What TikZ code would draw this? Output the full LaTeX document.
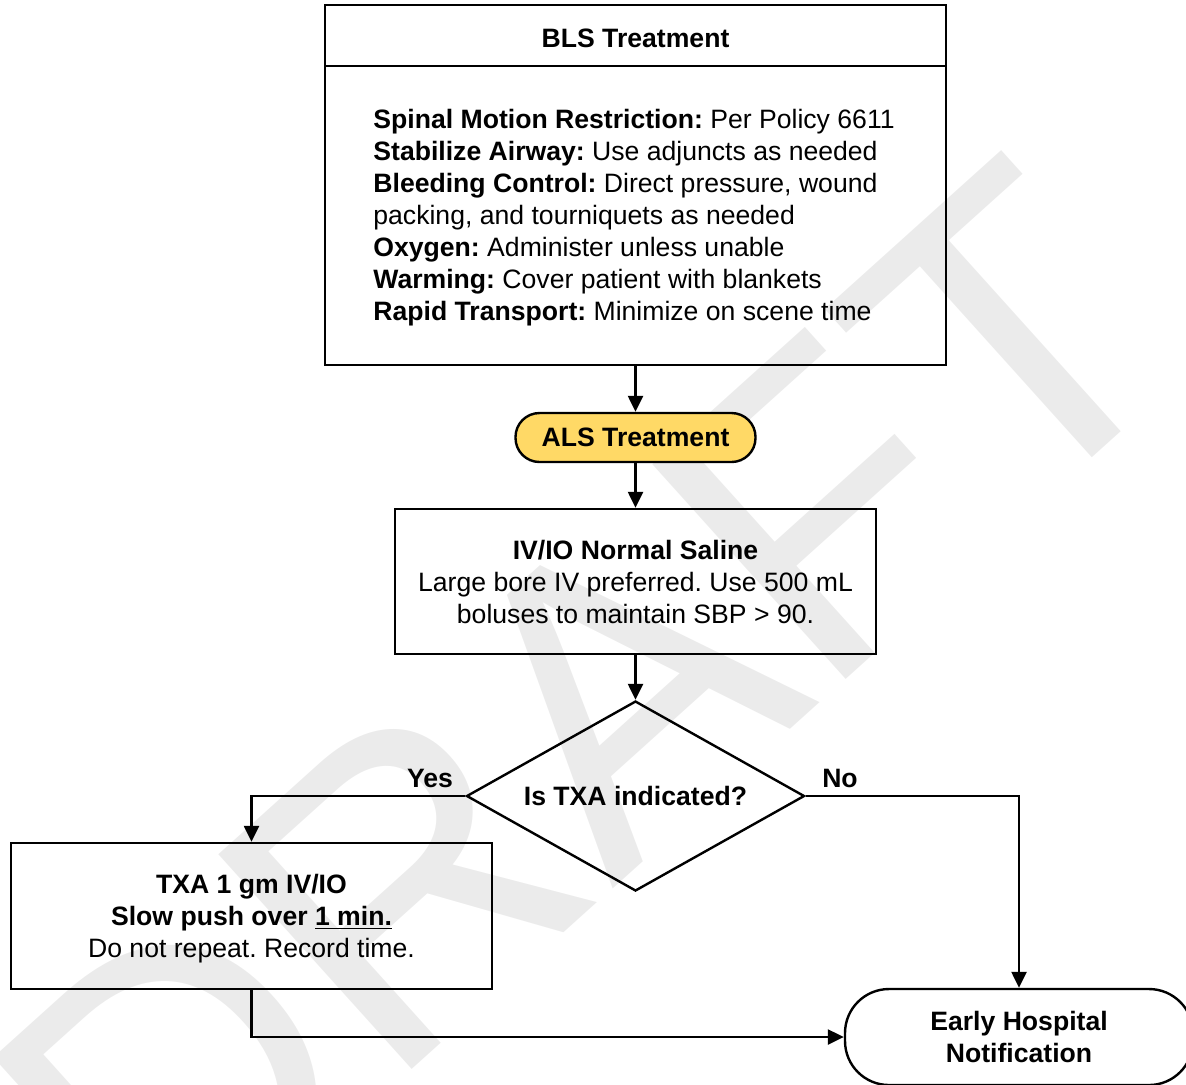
\documentclass[tikz,border=0pt]{standalone}
\usepackage{fontspec}
\setmainfont{Liberation Sans}
\frenchspacing
\usetikzlibrary{arrows.meta}
\usetikzlibrary{shapes.geometric}
\definecolor{alsyellow}{HTML}{FFD966}
\definecolor{wmgray}{HTML}{EBEBEB}
\tikzset{every node/.style={font=\fontsize{13.3}{16}\selectfont},
 box/.style={draw,line width=1.2pt,align=center,inner sep=0pt,text depth=0pt},
 pill/.style={box,rounded corners=12pt},
 decision/.style={box,diamond,aspect=1.78,minimum width=169pt,minimum height=95pt},
 link/.style={line width=1.2pt,-{Triangle[length=8pt,width=7.5pt]}},
 answer/.style={font=\fontsize{13.3}{16}\selectfont\bfseries},
 }

\begin{document}
\begin{tikzpicture}[x=0.5pt,y=-0.5pt]
        \useasboundingbox (0,0) rectangle (1186,1084);
        \node[wmgray,rotate=42,font=\fontsize{210}{210}\selectfont] (wm) at (585,720) {DRAFT};

        \node[box,minimum width=310.5pt,minimum height=30.5pt,text height=12pt,font=\fontsize{13.3}{16}\selectfont\bfseries] (bls) at (635.5,35.5) {BLS Treatment};
        \node[box,minimum width=310.5pt,minimum height=149.5pt] (blsbody) at (635.5,215.5) {};
        \node[anchor=west,align=left,inner sep=0pt,text depth=0pt] (blstext) at (373,215)
            {\textbf{Spinal Motion Restriction:} Per Policy 6611\\
             \textbf{Stabilize Airway:} Use adjuncts as needed\\
             \textbf{Bleeding Control:} Direct pressure, wound\\
             packing, and tourniquets as needed\\
             \textbf{Oxygen:} Administer unless unable\\
             \textbf{Warming:} Cover patient with blankets\\
             \textbf{Rapid Transport:} Minimize on scene time};
        \node[pill,fill=alsyellow,minimum width=120pt,minimum height=24.5pt,font=\fontsize{13.3}{16}\selectfont\bfseries] (als) at (635.5,437.5) {ALS Treatment};
        \node[box,minimum width=240.5pt,minimum height=72.5pt] (saline) at (635.5,581.5)
            {\textbf{IV/IO Normal Saline}\\Large bore IV preferred. Use 500 mL\\boluses to maintain SBP > 90.};
        \node[decision,font=\fontsize{13.3}{16}\selectfont\bfseries] (txaq) at (635.5,796) {Is TXA indicated?};
        \node[box,minimum width=240.5pt,minimum height=73pt] (txa) at (251.5,916)
            {\textbf{TXA 1 gm IV/IO}\\\textbf{Slow push over \underline{1 min.}}\\Do not repeat. Record time.};
        \node[box,rounded corners=22pt,minimum width=174pt,minimum height=48pt,font=\fontsize{13.3}{16}\selectfont\bfseries] (notify) at (1019,1037)
            {Early Hospital\\Notification};

        \node[answer] (yes) at (430,778) {Yes};
        \node[answer] (no) at (840,778) {No};

        \draw[link] (blsbody) -- (als);
        \draw[link] (als) -- (saline);
        \draw[link] (saline) -- (txaq);
        \draw[link] (txaq.west) -| (txa.north);
        \draw[link] (txaq.east) -| (notify.north);
        \draw[link] (txa.south) |- (notify.west);
    \end{tikzpicture}
\end{document}
